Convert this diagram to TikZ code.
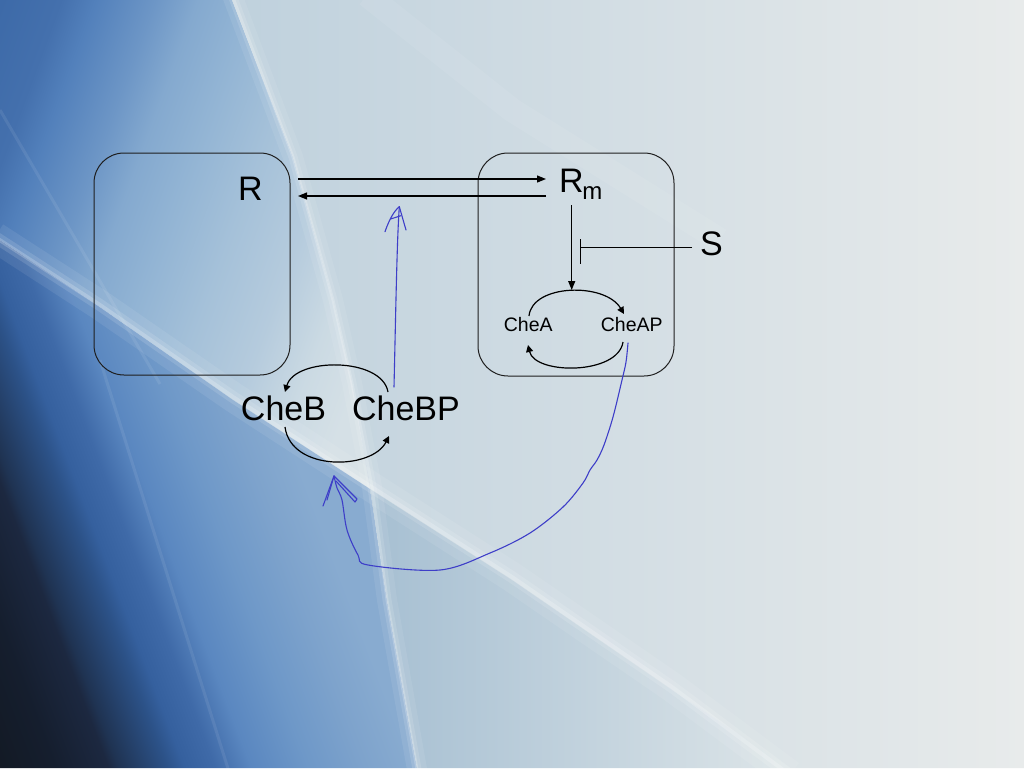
\documentclass[tikz,border=0pt]{standalone}
\usepackage{fontspec}
\setmainfont{Liberation Sans}
\usetikzlibrary{arrows.meta}
% region A (upper left)
\definecolor{a0}{HTML}{3D6AA8}
\definecolor{a1}{HTML}{4470AD}
\definecolor{a2}{HTML}{5280BB}
\definecolor{a3}{HTML}{6D96C6}
\definecolor{a4}{HTML}{84A9CF}
\definecolor{a5}{HTML}{92B4D4}
\definecolor{a6}{HTML}{A5C1D9}
\definecolor{a7}{HTML}{B5CBDD}
\definecolor{a8}{HTML}{CBDAE3}
\definecolor{a9}{HTML}{D5E0E6}
\pgfdeclarehorizontalshading{shA}{100bp}{color(0bp)=(a0); color(18bp)=(a0); color(25bp)=(a1); color(29bp)=(a2); color(36bp)=(a3); color(41bp)=(a4); color(47bp)=(a5); color(55bp)=(a6); color(63bp)=(a7); color(70bp)=(a8); color(76bp)=(a9); color(100bp)=(a9)}
% region C (lower left)
\definecolor{k0}{HTML}{131A25}
\definecolor{k1}{HTML}{151E2E}
\definecolor{k2}{HTML}{1C2840}
\definecolor{k3}{HTML}{1F3352}
\definecolor{k4}{HTML}{2C5288}
\definecolor{k5}{HTML}{35609E}
\definecolor{k6}{HTML}{3F6AA8}
\definecolor{k7}{HTML}{5A87C0}
\definecolor{k8}{HTML}{6E98C8}
\definecolor{k9}{HTML}{7EA3CC}
\definecolor{k10}{HTML}{88ABD0}
\pgfdeclarehorizontalshading{shC}{100bp}{color(0bp)=(k0); color(17.8bp)=(k0); color(23.4bp)=(k1); color(29bp)=(k2); color(30.1bp)=(k3); color(35.2bp)=(k4); color(37bp)=(k5); color(40.2bp)=(k6); color(44bp)=(k7); color(50bp)=(k8); color(56bp)=(k9); color(61bp)=(k10); color(100bp)=(k10)}
\definecolor{bgbase}{HTML}{E4E9EA}
\definecolor{ruL}{HTML}{BFD1DD}
\definecolor{ruM}{HTML}{DCE4E7}
\definecolor{ruR}{HTML}{E8EBEB}
\definecolor{rlL}{HTML}{A6BFD2}
\definecolor{rlM}{HTML}{BCCFDB}
\definecolor{rlR}{HTML}{DDE5E8}
\definecolor{ink}{RGB}{62,62,200}
\definecolor{boxline}{HTML}{1E1E1E}
\begin{document}
\begin{tikzpicture}[x=1pt,y=-1pt,
  box/.style={draw=boxline, line width=1pt, rounded corners=30pt, inner sep=0pt},
  big/.style={font=\fontsize{34}{40}\selectfont, inner sep=0pt, anchor=base},
  small/.style={font=\fontsize{19.5}{23}\selectfont, inner sep=0pt, anchor=base},
  conn/.style={line width=1.2pt, black},
  arr/.style={conn, -{Triangle[length=9pt,width=7pt]}},
  arrs/.style={conn, -{Triangle[length=7pt,width=7pt]}},
  inkline/.style={ink, line width=1.1pt, line cap=round, line join=round},
  streak/.style={white, line cap=butt, line join=round}]
\path[use as bounding box] (0,0) rectangle (1024,768);
\begin{scope}
\clip (0,0) rectangle (1024,768);
% background
\fill[bgbase] (0,0) rectangle (1024,768);
\shade[shading=shA, shading angle=-20.2] (0,0) -- (232,0) -- (293,157) -- (333,300) -- (352,383) -- (370,489) -- (233,400) -- (100,307) -- (0,240) -- cycle;
\shade[shading=shC, shading angle=20.8] (0,240) -- (100,307) -- (233,400) -- (370,489) -- (387,600) -- (417,768) -- (0,768) -- cycle;
\shade[left color=ruL, middle color=ruM, right color=ruR] (232,0) -- (1024,0) -- (1024,768) -- (790,768) -- (672,690) -- (512,580) -- (370,489) -- (352,383) -- (333,300) -- (293,157) -- cycle;
\shade[left color=rlL, middle color=rlM, right color=rlR] (370,489) -- (512,580) -- (672,690) -- (790,768) -- (417,768) -- (387,600) -- cycle;
% light streaks
\draw[streak, opacity=0.08, line width=20pt] (232,-5) -- (293,157) -- (333,300) -- (352,383) -- (372,487) -- (387,600) -- (418,775);
\draw[streak, opacity=0.12, line width=9pt] (232,-5) -- (293,157) -- (333,300) -- (352,383) -- (372,487) -- (387,600) -- (418,775);
\draw[streak, opacity=0.2, line width=3pt] (232,-5) -- (293,157) -- (333,300) -- (352,383) -- (372,487) -- (387,600) -- (418,775);
\draw[streak, opacity=0.08, line width=30pt] (-5,237) -- (100,305) -- (233,397) -- (370,486) -- (512,577) -- (672,687) -- (790,775);
\draw[streak, opacity=0.12, line width=12pt] (-5,237) -- (100,305) -- (233,397) -- (370,486) -- (512,577) -- (672,687) -- (790,775);
\draw[streak, opacity=0.2, line width=4pt] (-5,237) -- (100,305) -- (233,397) -- (370,486) -- (512,577) -- (672,687) -- (790,775);
\draw[streak, opacity=0.08, line width=3pt] (0,110) -- (160,384);
\draw[streak, opacity=0.08, line width=3pt] (100,360) -- (230,775);
\draw[streak, opacity=0.07, line width=24pt] (367,-5) -- (512,110) -- (720,240);
\end{scope}
% boxes
\node[box, minimum width=196pt, minimum height=222pt] (boxL) at (192,264) {};
\node[box, minimum width=196pt, minimum height=223pt] (boxR) at (576,264.5) {};
% labels
\node[big] (R) at (250.5,200) {R};
\node[big, anchor=base west] (Rm) at (559,192) {R\kern-1.5pt\raisebox{-7.3pt}{\fontsize{24}{24}\selectfont m}};
\node[big] (S) at (711.4,255) {S};
\node[small] (CheA) at (528.3,331.7) {CheA};
\node[small] (CheAP) at (631.8,331.7) {CheAP};
\node[big] (CheB) at (283.5,420) {CheB};
\node[big] (CheBP) at (406,420) {CheBP};
% R <-> Rm
\coordinate (a1s) at (298,179); \coordinate (a1e) at (546,179);
\coordinate (a2s) at (546,196); \coordinate (a2e) at (298,196);
\draw[arr] (a1s) -- (a1e);
\draw[arr] (a2s) -- (a2e);
% Rm -> CheA cycle
\coordinate (d1) at (571.7,205); \coordinate (d2) at (571.7,290);
\draw[arr] (d1) -- (d2);
% S inhibition
\coordinate (i1) at (692,247.3); \coordinate (i2) at (580,247.3);
\coordinate (ib1) at (580,239); \coordinate (ib2) at (580,264);
\draw[conn, line width=1pt] (i1) -- (i2);
\draw[conn, line width=1pt] (ib1) -- (ib2);
% CheA cycle
\coordinate (ca1) at (529,316); \coordinate (ca2) at (624,314);
\draw[arrs] (ca1) .. controls (532,284) and (605,282) .. (ca2);
\coordinate (cb1) at (623,342); \coordinate (cb2) at (528,345);
\draw[arrs] (cb1) .. controls (618,375) and (535,375) .. (cb2);
% CheB cycle
\coordinate (bb1) at (388,392); \coordinate (bb2) at (285,392);
\draw[arrs] (bb1) .. controls (382,357) and (295,357) .. (bb2);
\coordinate (bc1) at (285,427); \coordinate (bc2) at (389,436);
\draw[arrs] (bc1) .. controls (291,472) and (372,470) .. (bc2);
% blue hand-drawn arrows
\coordinate (u1) at (394,387); \coordinate (u2) at (399.3,206.7);
\draw[inkline] (u1) .. controls (396,300) and (397,240) .. (u2);
\draw[inkline] (385,231.7) .. controls (389,220) and (394,211) .. (u2) -- (406,230);
\draw[inkline] (390.7,219) -- (400.7,215.7);
\coordinate (v1) at (628,343); \coordinate (v2) at (334,476);
\draw[inkline] plot[smooth, tension=0.55] coordinates {(v1) (626,362) (622,380) (613,417) (604,445) (597,460) (590,470) (583,483) (563,507) (530,533) (490,553) (440,570) (368,565) (358,555) (347,530) (342,500) (337,488) (v2)};
\draw[inkline] (v2) -- (323,506);
\draw[inkline] (v2) -- (327,500);
\draw[inkline] (v2) -- (357,499) -- (355,502) -- (336,481);
\end{tikzpicture}
\end{document}
